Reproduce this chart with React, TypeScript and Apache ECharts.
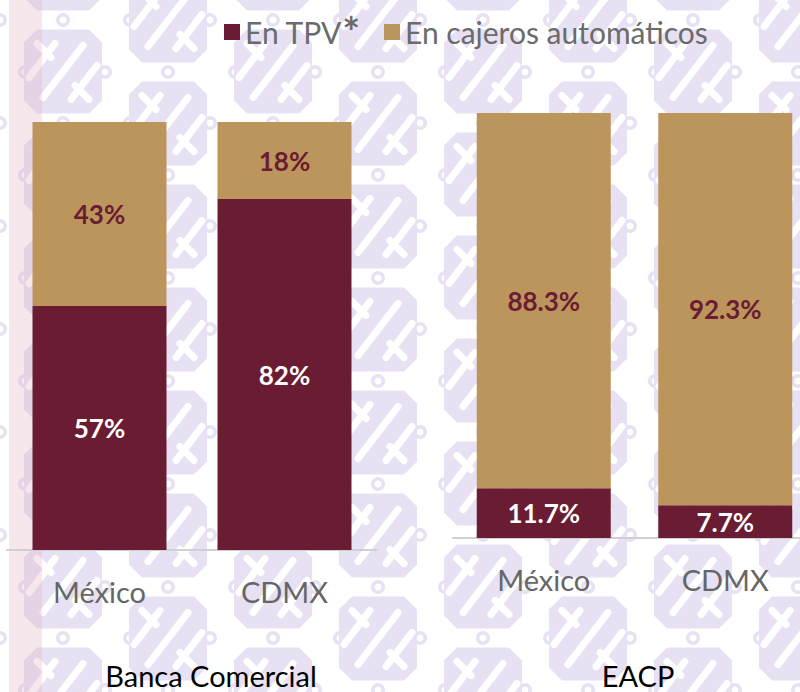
import React, { useEffect, useRef } from "react";
import * as echarts from "echarts";

const categories = ["México", "CDMX"];
const tpvBanca = [57, 82];
const atmBanca = [43, 18];
const tpvEacp = [11.7, 7.7];
const atmEacp = [88.3, 92.3];
const legendNames = ["En TPV", "En cajeros automáticos"];
const panelTitles = ["Banca Comercial", "EACP"];

const MAROON = "#691C32";
const TAN = "#BC955C";
const LAV = "#e7e1f3";
const FONT = "Lato, 'Open Sans', sans-serif";

function buildPattern(): any[] {
  const els: any[] = [];
  for (let i = -1; i <= 8; i++) {
    const cx = 63 + 105 * i;
    const base = i % 2 === 0 ? 20 : 72;
    for (let k = -1; k <= 7; k++) {
      const gy = base + 103 * k;
      const cy = gy + 51.5;
      const w = 7;
      const ws = { stroke: "#fff", lineWidth: w, lineCap: "round" };
      els.push({
        type: "group",
        x: cx,
        y: cy,
        z: -10,
        silent: true,
        children: [
          {
            type: "polygon",
            shape: {
              points: [
                [-26, -42], [26, -42], [39, -29], [39, 29],
                [26, 42], [-26, 42], [-39, 29], [-39, -29],
              ],
            },
            style: { fill: LAV },
            z: -10,
          },
          { type: "line", shape: { x1: -20, y1: 26, x2: 20, y2: -26 }, style: ws, z: -9 },
          { type: "line", shape: { x1: -34, y1: 6, x2: -8, y2: -28 }, style: ws, z: -9 },
          { type: "line", shape: { x1: 8, y1: 28, x2: 34, y2: -6 }, style: ws, z: -9 },
          { type: "line", shape: { x1: -26, y1: -28, x2: -12, y2: -14 }, style: ws, z: -9 },
          { type: "line", shape: { x1: 12, y1: 14, x2: 26, y2: 28 }, style: ws, z: -9 },
        ],
      });
      [-63, 0, 67].forEach((dx) => {
        els.push({
          type: "ring",
          silent: true,
          z: -10,
          shape: { cx: cx + dx, cy: gy, r: 7, r0: 3.5 },
          style: { fill: LAV },
        });
      });
    }
  }
  els.push({
    type: "rect",
    silent: true,
    z: -5,
    shape: { x: 9, y: 0, width: 33, height: 692 },
    style: { fill: "rgba(225,175,195,0.3)" },
  });
  return els;
}

export default function App() {
  const ref = useRef<HTMLDivElement>(null);
  useEffect(() => {
    document.body.style.margin = "0";
    const chart = echarts.init(ref.current!, undefined, { renderer: "svg" });
    const catAxis = (gridIndex: number) => ({
      type: "category",
      gridIndex,
      data: categories,
      axisLine: { lineStyle: { color: "#d0d0d0", width: 2 } },
      axisTick: { show: false },
      axisLabel: { fontSize: 29, color: "#666", margin: 27, fontFamily: FONT },
    });
    const valAxis = (gridIndex: number) => ({
      type: "value",
      gridIndex,
      min: 0,
      max: 100,
      show: false,
    });
    const lbl = (color: string) => ({
      show: true,
      position: "inside",
      formatter: (p: any) => `${p.value}%`,
      color,
      fontSize: 26,
      fontWeight: "bold",
      fontFamily: FONT,
    });
    const bar = (name: string, data: number[], idx: number, color: string, labelColor: string, stack: string) => ({
      type: "bar",
      name,
      data,
      xAxisIndex: idx,
      yAxisIndex: idx,
      stack,
      barWidth: 134,
      itemStyle: { color },
      label: lbl(labelColor),
    });
    chart.setOption({
      animation: false,
      backgroundColor: "#fff",
      legend: {
        data: legendNames,
        left: 219,
        top: 6,
        itemWidth: 16,
        itemHeight: 16,
        itemGap: 24,
        icon: "rect",
        formatter: (n: string) => (n === "En TPV" ? "En TPV{a|*}" : n),
        textStyle: {
          fontSize: 30,
          color: "#6b6b6b",
          fontFamily: FONT,
          rich: {
            a: { fontSize: 42, fontWeight: "bold", color: "#6b6b6b", verticalAlign: "top", fontFamily: FONT },
          },
        },
      },
      grid: [
        { left: 7, top: 122, width: 370, height: 428, outerBoundsMode: "none" },
        { left: 453, top: 113, width: 363, height: 425, outerBoundsMode: "none" },
      ],
      xAxis: [catAxis(0), catAxis(1)],
      yAxis: [valAxis(0), valAxis(1)],
      series: [
        bar("En TPV", tpvBanca, 0, MAROON, "#fff", "b"),
        bar("En cajeros automáticos", atmBanca, 0, TAN, MAROON, "b"),
        bar("En TPV", tpvEacp, 1, MAROON, "#fff", "e"),
        bar("En cajeros automáticos", atmEacp, 1, TAN, MAROON, "e"),
      ],
      graphic: [
        ...buildPattern(),
        {
          type: "text",
          x: 211,
          y: 675,
          z: 100,
          style: { text: panelTitles[0], textAlign: "center", textVerticalAlign: "middle", fontSize: 29, fill: "#000", fontFamily: FONT },
        },
        {
          type: "text",
          x: 638,
          y: 675,
          z: 100,
          style: { text: panelTitles[1], textAlign: "center", textVerticalAlign: "middle", fontSize: 29, fill: "#000", fontFamily: FONT },
        },
      ],
    });
    return () => chart.dispose();
  }, []);
  return <div ref={ref} style={{ width: 800, height: 692 }} />;
}
